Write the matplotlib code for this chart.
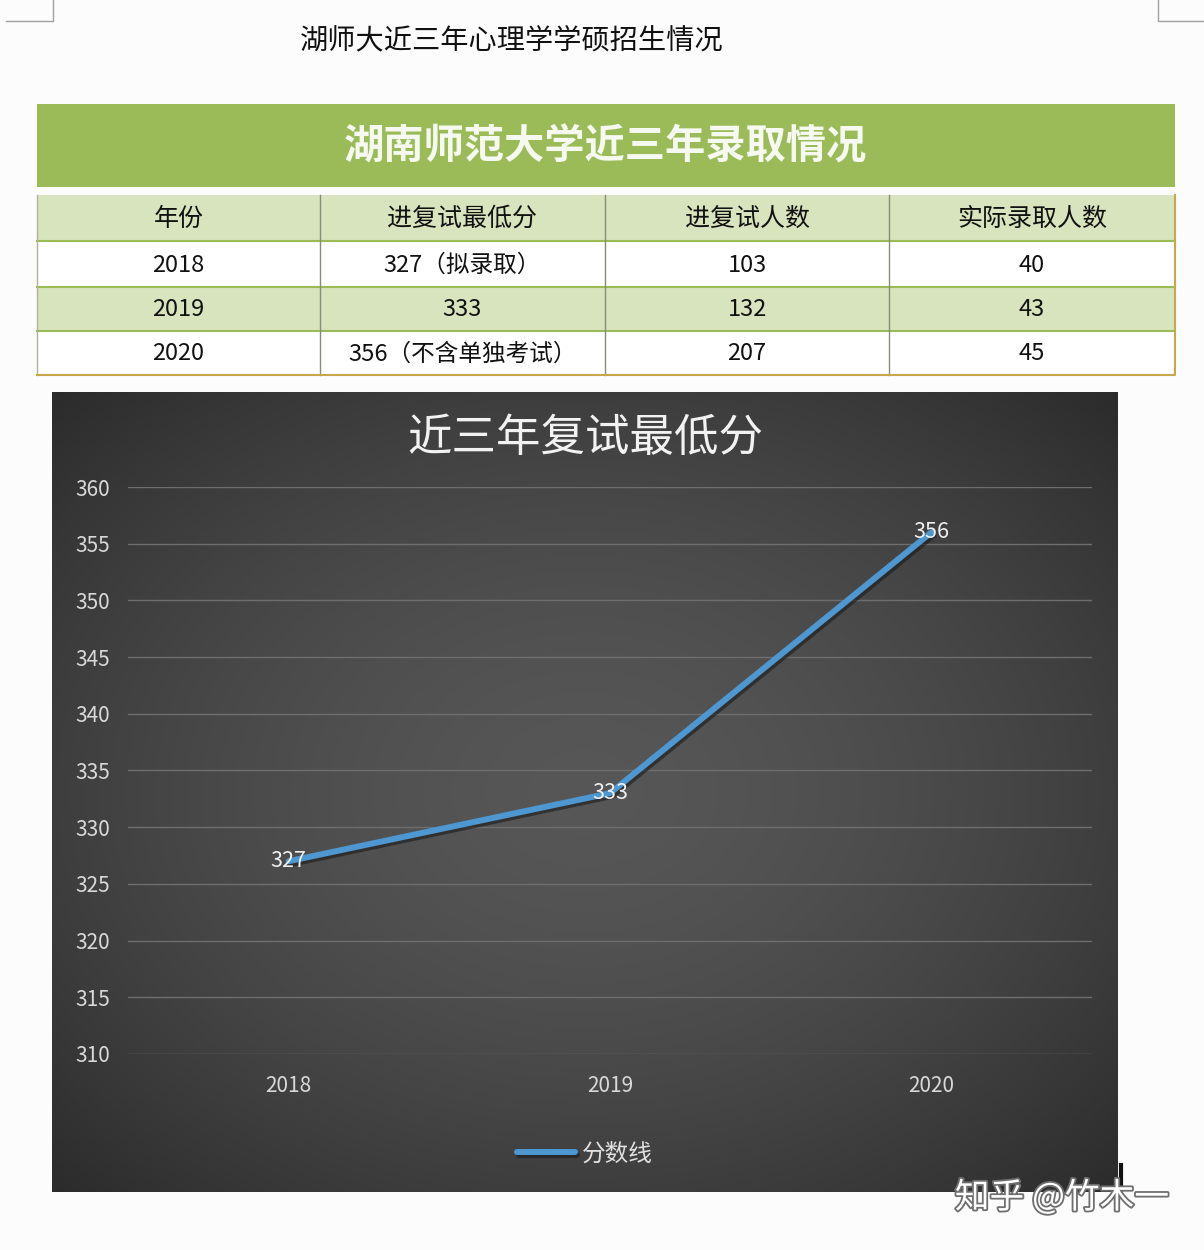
import numpy as np
import matplotlib
matplotlib.use("Agg")
import matplotlib.pyplot as plt
from matplotlib.patches import Rectangle
import matplotlib.patheffects as pe

plt.rcParams['font.family'] = ['Noto Sans CJK SC', 'DejaVu Sans']

# ---------------- data ----------------
page_title = '湖师大近三年心理学学硕招生情况'
table_title = '湖南师范大学近三年录取情况'
headers = ['年份', '进复试最低分', '进复试人数', '实际录取人数']
years = ['2018', '2019', '2020']
score_text = ['327（拟录取）', '333', '356（不含单独考试）']
retest_counts = ['103', '132', '207']
admitted = ['40', '43', '45']

chart_title = '近三年复试最低分'
series_name = '分数线'
scores = [327, 333, 356]
y_ticks = [310, 315, 320, 325, 330, 335, 340, 345, 350, 355, 360]

W, H = 1204, 1250
fig = plt.figure(figsize=(W / 100, H / 100), dpi=100)
fig.patch.set_facecolor('#fdfcfd')

# overlay axes in pixel coordinates for page decorations and table
pg = fig.add_axes([0, 0, 1, 1])
pg.set_xlim(0, W)
pg.set_ylim(H, 0)
pg.axis('off')

# crop marks
pg.plot([6, 53, 53], [21, 21, 0], color='#a0a0a0', lw=1)
pg.plot([1204, 1158, 1158], [21, 21, 0], color='#a0a0a0', lw=1)

pg.text(512, 41, page_title, fontsize=20.3, ha='center', va='center', color='#111111')

# ---------------- table ----------------
green = '#9bbb59'
light = '#d7e4bd'
col_x = [37, 320, 605, 889, 1175]
pg.add_patch(Rectangle((37, 104), 1138, 83, facecolor=green, edgecolor='none'))
pg.text(605, 147, table_title, fontsize=29, fontweight='bold', ha='center', va='center',
        color='#f6f9f0')
row_y = [195, 241, 287, 331, 375]
row_fill = [light, '#ffffff', light, '#ffffff']
rows = [headers] + [[years[i], score_text[i], retest_counts[i], admitted[i]] for i in range(3)]
for r in range(4):
    y0, y1 = row_y[r], row_y[r + 1]
    pg.add_patch(Rectangle((37, y0), 1138, y1 - y0, facecolor=row_fill[r], edgecolor='none'))
    for c in range(4):
        cx = (col_x[c] + col_x[c + 1]) / 2
        pg.text(cx, (y0 + y1) / 2 + 1, rows[r][c], fontsize=18 if r == 0 else 17,
                ha='center', va='center', color='#111111')
for y in row_y[1:-1]:
    pg.plot([37, 1175], [y, y], color=green, lw=1.5)
for x in col_x[1:-1]:
    pg.plot([x, x], [195, 375], color='#8a8a7a', lw=1)
pg.plot([37, 37], [195, 375], color='#b0b0a0', lw=1)
pg.plot([37, 1175, 1175], [375, 375, 195], color='#c8a84a', lw=1.5)

# ---------------- chart background ----------------
cx0, cx1, cy0, cy1 = 52, 1118, 392, 1192
bg = fig.add_axes([cx0 / W, 1 - cy1 / H, (cx1 - cx0) / W, (cy1 - cy0) / H])
gx, gy = np.meshgrid(np.linspace(-1, 1, 300), np.linspace(-1, 1, 300))
r = np.sqrt(gx ** 2 + gy ** 2) / np.sqrt(2)
v = 0.34 - 0.17 * r ** 1.6
img = np.dstack([v, v, v])
bg.imshow(img, extent=[0, 1, 0, 1], aspect='auto', interpolation='bilinear')
bg.set_xlim(0, 1)
bg.set_ylim(0, 1)
bg.axis('off')
bg.text(0.5, 1 - (438 - cy0) / (cy1 - cy0), chart_title, fontsize=32,
        ha='center', va='center', color='#f2f2f2', fontweight='medium',
        transform=bg.transAxes)

# ---------------- line chart ----------------
left, right = 128 / W, 1092 / W
bottom, top = 1 - 1054 / H, 1 - 487 / H
ax = fig.add_axes([left, bottom, right - left, top - bottom])
ax.patch.set_alpha(0)
x = np.arange(len(years))
shadow = [pe.SimpleLineShadow(offset=(1.5, -2), shadow_color='#1a1a1a', alpha=0.6), pe.Normal()]
ax.plot(x, scores, color='#4e97d1', lw=4.3, solid_capstyle='round',
        path_effects=shadow, label=series_name, zorder=3)
for xi, s in zip(x, scores):
    ax.text(xi, s, str(s), fontsize=15.5, ha='center', va='center', color='#f0f0f0', zorder=4)
ax.set_xlim(-0.5, len(years) - 0.5)
ax.set_ylim(min(y_ticks), max(y_ticks))
ax.set_yticks(y_ticks)
ax.set_xticks(x)
ax.set_xticklabels(years)
ax.grid(axis='y', color='#6e6e6e', lw=1)
ax.set_axisbelow(True)
for s in ax.spines.values():
    s.set_visible(False)
ax.tick_params(axis='both', length=0, colors='#d9d9d9', labelsize=15)
ax.tick_params(axis='y', pad=13)
ax.tick_params(axis='x', pad=15)

legend_cx = ((cx0 + cx1) / 2 - 128) / (1092 - 128)
leg = ax.legend(loc='center', bbox_to_anchor=(legend_cx, 1 - (1154 - 487) / (1054 - 487)),
                frameon=False, fontsize=17, handlelength=2.45, handletextpad=0.3,
                labelcolor='#e0e0e0')

# watermark (drawn on top of everything)
fig.add_artist(plt.Line2D([1121 / W, 1121 / W], [1 - 1165 / H, 1 - 1190 / H],
                          color='#111111', lw=3, zorder=9))
fig.text(1062 / W, 1 - 1198 / H, '知乎 @竹木一', fontsize=25, ha='center', va='center',
         color='#ffffff', zorder=10,
         path_effects=[pe.withStroke(linewidth=2.6, foreground='#6e6e6e')])

fig.savefig('out.png', dpi=100, facecolor=fig.get_facecolor())
